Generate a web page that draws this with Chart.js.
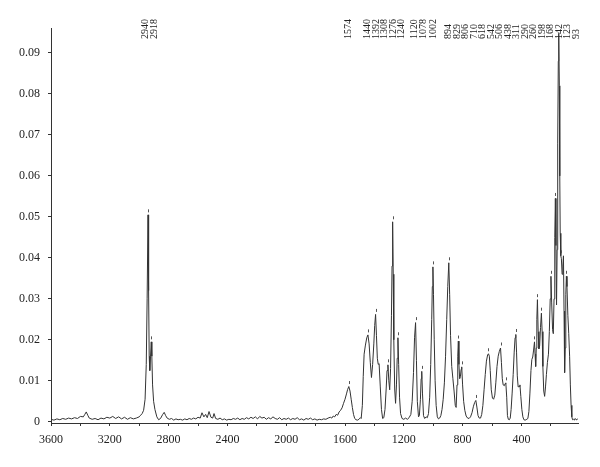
<!DOCTYPE html>
<html><head><meta charset="utf-8">
<script src="https://cdn.jsdelivr.net/npm/chart.js@4.4.0/dist/chart.umd.min.js"></script>
<style>html,body{margin:0;padding:0;background:#fff}</style>
</head><body>
<canvas id="c" width="600" height="467"></canvas>
<script>
// ---- data: [wavenumber cm-1, intensity] ----
const highBaseline = [[3600,0.0006],[3580,0.0004],[3560,0.0007],[3540,0.0005],[3520,0.0008],[3500,0.0006],[3480,0.0009],[3460,0.0007],[3440,0.001],[3420,0.0008],[3400,0.0013],[3380,0.0012],[3370,0.0018],[3360,0.0024],[3350,0.0016],[3340,0.0009],[3320,0.0006],[3300,0.0008],[3280,0.0005],[3260,0.0009],[3240,0.0007],[3220,0.0011],[3200,0.0009],[3180,0.0013],[3160,0.0008],[3140,0.0012],[3120,0.0007],[3100,0.0011],[3080,0.0006],[3060,0.001],[3040,0.0007],[3020,0.0009],[3000,0.0012],[2990,0.0016]];
const chStretch = [[2980,0.002],[2970,0.0028],[2960,0.0055],[2952,0.014],[2946,0.03],[2940,0.0505],[2936,0.032],[2932,0.016],[2928,0.0125],[2923,0.016],[2918,0.0195],[2914,0.016],[2909,0.009],[2902,0.005],[2893,0.003],[2880,0.0012],[2868,0.0005]];
const midBaseline = [[2855,0.0008],[2840,0.0018],[2830,0.0023],[2820,0.0015],[2810,0.0009],[2795,0.0006],[2780,0.0008],[2765,0.0004],[2750,0.0007],[2735,0.0005],[2720,0.0006],[2705,0.0004],[2690,0.0007],[2675,0.0005],[2660,0.0008],[2645,0.0006],[2630,0.0009],[2615,0.0007],[2600,0.0011],[2585,0.0009],[2573,0.0022],[2560,0.0012],[2548,0.0018],[2537,0.001],[2525,0.0025],[2512,0.0011],[2500,0.0009],[2491,0.002],[2480,0.0008],[2465,0.0006],[2450,0.0009],[2435,0.0005],[2420,0.0007],[2405,0.0004],[2390,0.0006],[2375,0.0005],[2360,0.0008],[2345,0.0006],[2330,0.0009],[2315,0.0005],[2300,0.0008],[2285,0.0006],[2270,0.001],[2255,0.0007],[2240,0.0011],[2225,0.0008],[2210,0.0012],[2195,0.0007],[2180,0.0013],[2165,0.0009],[2150,0.0011],[2135,0.0006],[2120,0.001],[2105,0.0007],[2090,0.0012],[2075,0.0008],[2060,0.0006],[2045,0.001],[2030,0.0005],[2015,0.0008],[2000,0.0006],[1985,0.0009],[1970,0.0005],[1955,0.0008],[1940,0.0006],[1925,0.001],[1910,0.0005],[1895,0.0007],[1880,0.0004],[1865,0.0008],[1850,0.0006],[1835,0.0009],[1820,0.0005],[1805,0.0007],[1790,0.0004],[1775,0.0006],[1760,0.0005],[1745,0.0007],[1730,0.0006],[1715,0.0009],[1700,0.0011]];
const band1574 = [[1690,0.0009],[1680,0.0014],[1670,0.0012],[1660,0.0018],[1650,0.0016],[1640,0.0024],[1630,0.0028],[1620,0.0034],[1610,0.0045],[1600,0.0055],[1590,0.0068],[1582,0.0079],[1574,0.0086],[1566,0.0075],[1558,0.0055],[1550,0.0035],[1542,0.0018],[1534,0.0008],[1525,0.0005],[1515,0.0004],[1505,0.0006],[1495,0.001]];
const fingerprint = [[1490,0.0008],[1482,0.004],[1476,0.011],[1470,0.0165],[1462,0.0185],[1452,0.0205],[1444,0.0212],[1436,0.019],[1428,0.0145],[1420,0.0108],[1412,0.014],[1404,0.019],[1398,0.0235],[1392,0.0262],[1386,0.021],[1380,0.0155],[1374,0.014],[1368,0.0142],[1360,0.0085],[1352,0.003],[1344,0.0008],[1336,0.001],[1328,0.003],[1320,0.008],[1314,0.0125],[1308,0.0139],[1302,0.01],[1296,0.0078],[1290,0.013],[1284,0.026],[1280,0.038],[1276,0.0488],[1272,0.036],[1268,0.02],[1262,0.008],[1256,0.0045],[1250,0.009],[1245,0.0155],[1240,0.0205],[1235,0.014],[1229,0.006],[1222,0.002],[1212,0.0008],[1200,0.0006],[1188,0.0009],[1176,0.0006],[1164,0.001],[1152,0.0018],[1143,0.005],[1134,0.012],[1127,0.0205],[1120,0.0242],[1114,0.015],[1108,0.005],[1100,0.0012],[1094,0.0015],[1087,0.0055],[1082,0.0105],[1078,0.0123],[1073,0.007],[1066,0.0015],[1058,0.0008],[1048,0.0012],[1040,0.001],[1032,0.002],[1024,0.006],[1017,0.014],[1010,0.025],[1006,0.033],[1002,0.0378],[998,0.031],[993,0.02],[987,0.01],[980,0.004],[972,0.0012],[964,0.0007],[956,0.0009],[948,0.0015],[940,0.003],[932,0.0055],[924,0.0095],[916,0.016],[908,0.025],[901,0.033],[894,0.0388],[888,0.031],[882,0.021],[874,0.0135],[866,0.0105],[858,0.0075],[850,0.004],[844,0.0035],[838,0.009],[833,0.016],[829,0.0197],[825,0.014],[820,0.0105],[815,0.011],[810,0.0128],[806,0.0134],[800,0.009],[793,0.005],[785,0.0028],[776,0.0014],[766,0.0009],[756,0.0008],[746,0.0012],[736,0.0022],[726,0.0038],[718,0.0047],[710,0.0052],[703,0.0036],[695,0.0015],[687,0.0009],[678,0.0009],[670,0.0018],[662,0.004],[654,0.0078],[646,0.0115],[638,0.0148],[630,0.0163],[624,0.0166],[618,0.016],[612,0.0125],[605,0.0078],[597,0.0058],[589,0.0055],[581,0.0065],[574,0.0095],[566,0.0135],[558,0.016],[550,0.0172],[542,0.018],[536,0.0145],[530,0.0105],[524,0.009],[516,0.0088],[511,0.0093],[506,0.0095],[500,0.006],[495,0.0015],[489,0.0006],[482,0.0005],[476,0.0009],[470,0.003],[463,0.007],[456,0.0115],[449,0.017],[443,0.0205],[438,0.0213],[433,0.017],[428,0.0112],[422,0.0085],[416,0.0086],[410,0.009],[404,0.0062],[397,0.003],[390,0.0012],[383,0.0005],[375,0.0004],[368,0.0005]];
const lowFrequency = [[356,0.0008],[349,0.0025],[342,0.007],[335,0.0125],[329,0.0152],[323,0.0158],[317,0.0175],[311,0.0195],[307,0.0165],[303,0.0135],[299,0.018],[295,0.025],[291,0.0298],[286,0.022],[281,0.0178],[276,0.0185],[270,0.023],[264,0.0265],[259,0.022],[254,0.0135],[248,0.0075],[242,0.0062],[236,0.0085],[230,0.0115],[223,0.0145],[216,0.0165],[210,0.022],[204,0.03],[199,0.0355],[194,0.029],[188,0.0225],[183,0.0215],[178,0.03],[173,0.045],[169,0.0545],[165,0.043],[161,0.0285],[157,0.042],[153,0.068],[149,0.088],[146,0.0948],[142,0.082],[139,0.06],[136,0.046],[132,0.0405],[128,0.0398],[123,0.036],[118,0.038],[114,0.0405],[110,0.027],[106,0.012],[102,0.018],[98,0.031],[94,0.0355],[90,0.033],[84,0.026],[78,0.0215],[72,0.016],[67,0.009],[62,0.004],[57,0.0012],[52,0.0005],[46,0.0006],[40,0.0004],[34,0.0008],[28,0.0005],[22,0.0006],[17,0.0007]];

const peakLabels = [2940,2918,1574,1440,1392,1308,1276,1240,1120,1078,1002,894,829,806,710,618,542,506,438,311,290,260,198,168,142,123,93];
const xTickValues = [3600,3400,3200,3000,2800,2600,2400,2200,2000,1800,1600,1400,1200,1000,800,600,400,200];
const xLabelValues = [3600,3200,2800,2400,2000,1600,1200,800,400];
const yTickValues = [0,0.01,0.02,0.03,0.04,0.05,0.06,0.07,0.08,0.09];

const spectrum = [].concat(highBaseline, chStretch, midBaseline, band1574, fingerprint, lowFrequency)
  .map(p => ({x: p[0], y: p[1]}));

const FONT = "'Liberation Serif', 'DejaVu Serif', serif";
const INK = '#333';

const peakPlugin = {
  id: 'peakLabels',
  afterDatasetsDraw(chart) {
    const ctx = chart.ctx, xs = chart.scales.x, ys = chart.scales.y;
    ctx.save();
    // small marks above each labelled peak (peak found from the data)
    ctx.strokeStyle = '#555';
    ctx.lineWidth = 1;
    peakLabels.forEach(v => {
      let best = null;
      spectrum.forEach(p => { if (Math.abs(p.x - v) <= 10 && (!best || p.y > best.y)) best = p; });
      if (!best) return;
      const px = Math.round(xs.getPixelForValue(best.x)) + 0.5;
      const py = ys.getPixelForValue(best.y);
      if (py - 6 < 40) return;
      ctx.beginPath(); ctx.moveTo(px, py - 2.5); ctx.lineTo(px, py - 5.5); ctx.stroke();
    });
    // label layout: spread crowded labels evenly around their cluster centre
    const gap = 8.5, joinDist = 10;
    const rightLimit = chart.chartArea.right - 2;
    const items = peakLabels.map(v => ({t: String(v), x: xs.getPixelForValue(v)})).sort((a, b) => a.x - b.x);
    const startOf = cl => {
      const span = (cl.items.length - 1) * gap;
      return Math.min(cl.c - span / 2, rightLimit - span);
    };
    let clusters = items.map(it => ({items: [it], c: it.x}));
    let changed = true;
    while (changed) {
      changed = false;
      for (let i = 0; i < clusters.length - 1; i++) {
        const a = clusters[i], b = clusters[i + 1];
        const aEnd = startOf(a) + (a.items.length - 1) * gap;
        const bStart = startOf(b);
        if (bStart - aEnd < joinDist) {
          const its = a.items.concat(b.items);
          const c = its.reduce((s, it) => s + it.x, 0) / its.length;
          clusters.splice(i, 2, {items: its, c});
          changed = true; break;
        }
      }
    }
    ctx.fillStyle = '#222';
    ctx.font = "10px " + FONT;
    ctx.textAlign = 'left';
    ctx.textBaseline = 'middle';
    clusters.forEach(cl => {
      const start = startOf(cl);
      cl.items.forEach((it, k) => {
        ctx.save();
        ctx.translate(start + k * gap, 39);
        ctx.rotate(-Math.PI / 2);
        ctx.fillText(it.t, 0, 0);
        ctx.restore();
      });
    });
    ctx.restore();
  }
};

new Chart(document.getElementById('c'), {
  type: 'line',
  data: { datasets: [{ data: spectrum, borderColor: INK, borderWidth: 1, pointRadius: 0, tension: 0, fill: false }] },
  options: {
    responsive: false, animation: false, devicePixelRatio: 1,
    layout: { padding: { top: 28, right: 22, left: 0, bottom: 0 } },
    plugins: { legend: { display: false }, tooltip: { enabled: false } },
    scales: {
      x: {
        type: 'linear', reverse: true, min: 15, max: 3600,
        afterBuildTicks: s => { s.ticks = xTickValues.map(v => ({value: v})); },
        afterFit: s => { s.height = 44; },
        grid: { drawOnChartArea: false, drawTicks: true, tickLength: 3, color: INK },
        border: { display: true, color: INK, width: 1 },
        ticks: { autoSkip: false, maxRotation: 0, padding: 7, color: '#222', font: { family: FONT, size: 12 },
          callback: v => xLabelValues.includes(v) ? String(v) : '' }
      },
      y: {
        type: 'linear', min: -0.0003, max: 0.0961,
        afterBuildTicks: s => { s.ticks = yTickValues.map(v => ({value: v})); },
        afterFit: s => { s.width = 51; },
        grid: { drawOnChartArea: false, drawTicks: true, tickLength: 3, color: INK },
        border: { display: true, color: INK, width: 1 },
        ticks: { padding: 8, color: '#222', font: { family: FONT, size: 12 },
          callback: v => v === 0 ? '0' : v.toFixed(2) }
      }
    }
  },
  plugins: [peakPlugin]
});
</script>
</body></html>
